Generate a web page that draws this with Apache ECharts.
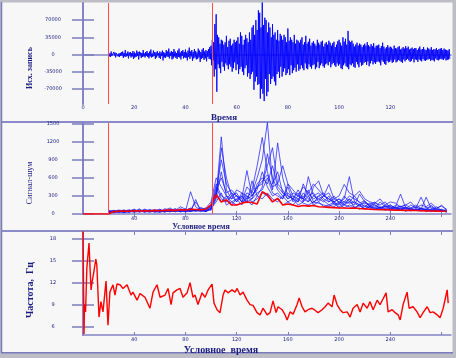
<!DOCTYPE html>
<html><head><meta charset="utf-8">
<script src="https://cdn.jsdelivr.net/npm/echarts@6/dist/echarts.min.js"></script>
<style>html,body{margin:0;padding:0;background:#bdbdc5;}#c{width:456px;height:358px;}</style>
</head><body><div id="c"></div><script>
// ---- Top panel: source record (seismogram), in thousands, sampled every 0.25 time units from t=10
const seisStart = 10, seisStep = 0.25, seisUnit = 1000;
const seisK = [
 3,-4,2,-5,6,-3,1,-4,5,-2,4,-6,3,-1,7,-4,2,-5,3,-3,
 5,-2,6,-7,3,-4,9,-5,2,-3,6,-8,4,-2,5,-6,3,-4,7,-9,
 4,-6,2,-5,8,-3,5,-10,6,-2,4,-7,3,-5,9,-4,2,-6,5,-3,
 7,-5,3,-8,6,-4,10,-6,2,-5,8,-3,5,-9,4,-6,7,-2,3,-7,
 6,-9,4,-3,8,-12,5,-6,3,-7,9,-4,6,-5,12,-8,4,-3,7,-10,
 5,-8,11,-4,6,-7,3,-9,8,-5,12,-6,4,-10,7,-3,9,-8,5,-6,
 10,-7,4,-12,8,-5,14,-9,6,-4,9,-13,5,-8,11,-6,7,-10,4,-9,
 12,-6,8,-15,5,-9,10,-7,13,-11,6,-8,9,-14,7,-5,11,-9,15,-10,
 18,-22,30,-12,25,-45,62,-30,82,-76,40,-20,35,-28,22,-38,30,-15,28,-25,
 20,-33,25,-18,38,-22,15,-30,28,-20,32,-25,18,-35,22,-28,30,-16,25,-32,
 28,-20,35,-40,22,-30,45,-25,38,-35,20,-42,30,-28,40,-22,33,-45,25,-38,
 45,-50,30,-40,55,-35,60,-72,40,-55,70,-45,50,-62,90,-60,85,-90,55,-70,
 115,-80,60,-95,75,-50,70,-85,45,-76,65,-40,55,-60,35,-50,62,-45,40,-55,
 45,-63,30,-40,50,-35,28,-48,42,-25,38,-45,30,-35,40,-28,35,-42,25,-38,
 53,-30,28,-42,35,-22,30,-38,25,-32,40,-27,22,-35,30,-20,28,-33,24,-30,
 30,-22,35,-28,20,-32,25,-18,38,-28,22,-30,26,-20,32,-25,18,-29,24,-22,
 27,-20,22,-30,18,-26,30,-15,24,-28,20,-22,26,-18,28,-24,16,-27,22,-20,
 25,-18,20,-22,28,-15,24,-26,18,-20,23,-17,26,-22,15,-25,20,-18,27,-23,
 30,-20,24,-28,18,-30,35,-22,26,-18,32,-24,20,-26,48,-30,28,-20,25,-22,
 28,-18,22,-25,16,-27,20,-15,24,-20,18,-26,22,-16,20,-23,15,-21,19,-17,
 22,-15,18,-21,25,-14,19,-24,16,-18,21,-13,17,-20,23,-16,14,-19,18,-15,
 18,-14,20,-16,13,-22,17,-12,24,-15,16,-19,12,-21,15,-13,19,-16,14,-15,
 16,-12,14,-17,11,-15,18,-10,13,-16,12,-14,15,-11,17,-13,10,-15,12,-17,
 15,-10,12,-14,17,-11,13,-9,16,-12,10,-15,12,-13,14,-9,11,-16,13,-10,
 13,-11,9,-15,12,-10,16,-12,10,-14,11,-9,15,-12,10,-13,9,-11,14,-10,
 12,-9,10,-13,15,-11,9,-12,11,-14,10,-8,13,-11,9,-12,11,-10,12,-9,
 13,-10,9,-11,12,-8,10,-12,9,-11,8,-10,11,-9
];
const topMarks = [10, 50.5];

// ---- Middle panel: signal-to-noise traces, sampled every 4 units from t=20
const snrStart = 20, snrStep = 4;
const snrA = [30,50,25,60,40,35,70,45,30,55, 80,40,60,35,90,50,45,70,60,40,
 80,300,1280,400,250,300,200,450,350,600, 900,1520,500,700,350,250,300,200,350,250,
 180,300,220,150,200,120,180,250,100,150, 90,130,80,110,70,120,60,100,50,80, 60,90,40,70,50,60,30];
const snrB = [50,20,40,70,30,60,40,80,55,30, 45,65,100,50,70,40,370,120,60,90,
 60,250,1100,600,300,200,350,250,400,800, 1270,700,400,1180,600,300,250,350,200,620,
 300,250,200,300,150,200,250,620,200,150, 200,120,150,100,130,80,120,330,100,90, 120,80,280,90,60,80,50];
const snrC = [20,40,60,30,50,80,35,55,40,70, 30,90,45,60,120,80,55,200,70,40,
 100,400,600,350,400,300,250,720,300,450, 500,800,1100,500,800,500,400,300,450,350,
 500,400,300,490,250,300,490,350,300,380, 250,200,180,250,150,200,180,120,150,200, 100,150,120,180,100,130,80];
const snrD = [40,60,30,50,70,45,60,30,75,50, 65,40,55,80,45,65,90,60,110,70,
 150,500,300,250,350,200,300,200,250,350, 400,600,350,300,250,500,300,250,300,200,
 450,550,300,250,200,150,300,200,150,330, 200,150,100,200,120,150,100,120,80,150, 100,280,100,120,80,150,60];
const snrE = [25,35,45,20,55,30,40,60,35,45, 55,30,70,40,60,35,50,240,45,60,
 100,200,350,150,200,150,180,220,150,300, 250,350,250,200,300,200,150,250,180,150,
 200,180,150,120,180,100,150,120,100,150, 80,120,90,100,60,90,70,80,50,70, 60,50,70,40,60,50,40];
const snrF = [60,30,50,40,25,65,50,35,60,40, 30,50,35,60,40,75,45,55,40,80,
 120,350,200,300,150,250,150,300,200,250, 350,300,200,250,150,200,250,150,200,300,
 150,200,120,150,120,180,100,150,120,80, 130,100,70,110,90,60,100,70,120,50, 90,60,80,60,50,70,30];
const snrG = [35,55,40,25,45,70,30,50,65,40, 50,35,80,55,40,60,70,45,90,50,
 80,450,250,200,300,350,200,250,300,400, 700,450,300,350,250,450,200,300,250,350,
 250,300,350,200,250,200,150,250,180,120, 150,100,120,90,150,80,110,70,90,60, 80,70,60,150,50,40,60];
const snrH = [45,25,55,35,60,40,85,30,50,70, 40,60,50,90,35,55,100,50,65,45,
 90,280,700,300,200,250,300,180,550,300, 450,1000,600,400,300,350,250,200,500,300,
 350,200,300,250,200,250,200,180,200,150, 180,150,200,120,100,150,90,130,80,100, 70,100,60,80,90,50,70];
const snrI = [30,45,65,50,35,55,40,70,45,60, 35,50,60,40,75,45,60,55,80,100,
 200,600,450,300,250,400,350,300,250,500, 600,500,800,450,350,300,250,400,250,200,
 300,350,250,200,300,180,200,300,250,200, 120,180,150,100,130,120,100,90,110,80, 60,90,70,50,80,60,40];
const snrJ = [55,40,30,60,45,50,65,40,55,35, 70,45,40,65,50,85,40,70,55,60,
 130,350,900,500,350,300,200,350,300,450, 550,650,450,500,400,250,350,300,250,400,
 200,250,300,350,200,250,150,200,300,180, 220,130,180,150,200,100,140,120,150,100, 150,90,100,70,120,60,50];
const snrMean = [0,40,45,50,45,55,50,55,50,60, 55,60,65,60,70,65,80,75,70,80,
 150,320,200,235,150,150,180,200,190,165, 370,320,200,260,150,165,150,125,140,130,
 140,120,115,110,105,100,100,95,100,90, 85,80,75,70,72,68,65,62,60,60, 58,55,52,50,48,45,45];
const midMarks = [20, 101];

// ---- Bottom panel: frequency, Hz  [time, value]
const freq = [[0,19.5],[0.4,12],[0.8,5.0],[1.2,9],[2,8],[3,14],[4.7,17.4],[5.5,14],[6.3,11],[7,12],
 [8.5,13.5],[10,15.2],[10.8,14.4],[12.5,7.3],[14,9.4],[15.6,8],[18,12.2],[19.5,6.2],[21,10.7],[23.4,11.7],
 [25,10.3],[26.5,11.8],[28.9,11.7],[31.3,11.2],[34.4,11.7],[37.5,10.3],[39,10.7],[42.2,9.6],[44.5,10.5],[48.4,10],
 [52.3,8.5],[54.7,10.7],[57.8,11.7],[60.2,10],[64.1,10.3],[66.4,11.2],[68.8,9],[70.3,10.6],[73.4,11],[75.8,11.2],
 [78.1,10],[81.3,10.6],[83.6,12],[85.9,10],[87.5,10.3],[89.8,9],[93,10.6],[95.3,10],[97.7,11],[100.8,11.8],
 [102.3,9.2],[104.7,8.3],[107,7.9],[109.4,10.3],[110.9,11],[113.3,10.6],[116.4,11],[118.8,10.7],[120.3,11.2],[122.7,10.3],
 [125,10.7],[128.1,9.6],[130.5,9],[132.8,8.9],[135.9,7.9],[138.3,7.6],[140.6,8.5],[143.8,7.6],[146.1,7.9],[148.4,9.5],
 [150.8,7.9],[152.3,8.7],[155.5,8.3],[157.8,7.6],[159.4,6.9],[161.7,8],[164.1,7.7],[167.2,9],[168.8,9.9],[171.1,8.7],
 [173.4,8],[175.8,8.3],[178.9,8.5],[181.3,8.2],[183.6,7.9],[186.7,8.3],[189.1,8.7],[191.4,9.2],[194.5,8.7],[196.1,10.3],
 [198.4,9],[200.8,8.3],[203.1,7.9],[206.3,8],[208.6,7.3],[210.9,8.5],[214.1,9],[216.4,8],[218.8,9.2],[221.9,8.5],
 [224.2,9.4],[226.6,8.3],[229.7,9.6],[232,9],[234.4,9.8],[236.7,10.6],[238.3,8],[241.4,8.3],[243.8,7.9],[246.1,7.6],
 [247.7,6.9],[250,9],[253.1,10.7],[254.7,8.5],[257.8,8.7],[260.9,8],[263.3,7.2],[265.6,7.9],[268.8,8.7],[271.1,7.9],
 [273.4,8],[276.6,7.6],[278.9,7.2],[281.3,8.5],[282.8,8.7],[284.4,11],[285.2,9.2]];

// ---- Ticks and labels
const topXTicks = [0,20,40,60,80,100,120,140];
const topXLabels = [0,20,40,60,80,100,120];
const topYTicks = [-70000,-35000,0,35000,70000];
const midXTicks = [40,80,120,160,200,240,280];
const midXLabels = [40,80,120,160,200,240];
const midYTicks = [0,300,600,900,1200,1500];
const botYTicks = [6,9,12,15,18];

const axisCol = '#8484c6', tickCol = '#7c7cc0', labCol = '#1c1c80';
const labFont = 'DejaVu Sans';
const plain = v => String(v);

function xAxes(gi, min, max, ticks, labels, margin) {
  return [
    {type:'value', gridIndex:gi, min:min, max:max, position:'bottom',
     axisLine:{show:true, lineStyle:{color:axisCol, width:1.5}},
     axisTick:{show:true, inside:true, length:3, customValues:ticks, lineStyle:{color:tickCol, width:1}},
     axisLabel:{show:true, customValues:labels, formatter:plain, fontSize:5, color:labCol, margin:margin, fontFamily:labFont},
     splitLine:{show:false}},
    {type:'value', gridIndex:gi, min:min, max:max, position:'top',
     axisLine:{show:false},
     axisTick:{show:true, inside:true, length:3, customValues:ticks, lineStyle:{color:tickCol, width:1}},
     axisLabel:{show:false}, splitLine:{show:false}}
  ];
}
function yAxes(gi, min, max, ticks) {
  return [
    {type:'value', gridIndex:gi, min:min, max:max, position:'left',
     axisLine:{show:true, lineStyle:{color:axisCol, width:2}},
     axisTick:{show:true, inside:true, length:11, customValues:ticks, lineStyle:{color:tickCol, width:1.5}},
     axisLabel:{show:true, customValues:ticks, formatter:plain, align:'center', margin:30, fontSize:5, color:labCol, fontFamily:labFont},
     splitLine:{show:false}},
    {type:'value', gridIndex:gi, min:min, max:max, position:'right',
     axisLine:{show:true, lineStyle:{color:axisCol, width:1}},
     axisTick:{show:true, inside:true, length:11, customValues:ticks, lineStyle:{color:tickCol, width:1.5}},
     axisLabel:{show:false}, splitLine:{show:false}}
  ];
}
const toPairs = (start, step, vals, unit) => vals.map((v, i) => [start + i * step, v * (unit || 1)]);
const markLine = (xs) => ({silent:true, symbol:'none', label:{show:false},
  lineStyle:{color:'#ff4a4a', type:'solid', width:1}, data: xs.map(x => ({xAxis:x}))});

const blueTraces = [snrA, snrB, snrC, snrD, snrE, snrF, snrG, snrH, snrI, snrJ];
const series = [];
series.push({type:'line', xAxisIndex:0, yAxisIndex:0, data:toPairs(seisStart, seisStep, seisK, seisUnit),
  showSymbol:false, lineStyle:{color:'#0000ff', width:0.9}, markLine:markLine(topMarks)});
blueTraces.forEach(tr => series.push({type:'line', xAxisIndex:2, yAxisIndex:2,
  data:toPairs(snrStart, snrStep, tr), showSymbol:false, lineStyle:{color:'#1414ff', width:1, opacity:0.7}}));
series.push({type:'line', xAxisIndex:2, yAxisIndex:2, data:[[0,0]].concat(toPairs(snrStart, snrStep, snrMean)),
  showSymbol:false, lineStyle:{color:'#ff0000', width:1.6}, markLine:markLine(midMarks)});
series.push({type:'line', xAxisIndex:4, yAxisIndex:4, data:freq, showSymbol:false,
  lineStyle:{color:'#ff0000', width:1.4}});

const titleCol = '#1c1c80';
const titles = [
  {t:'Исх. запись', x:30, y:68, r:true, f:'bold 8px "Liberation Serif"'},
  {t:'Сигнал-шум', x:30, y:183, r:true, f:'8px "Liberation Serif"'},
  {t:'Частота,  Гц', x:30, y:290, r:true, f:'bold 10px "Liberation Serif"'},
  {t:'Время', x:224, y:118, r:false, f:'bold 9px "Liberation Serif"'},
  {t:'Условное время', x:201, y:227, r:false, f:'bold 8px "Liberation Serif"'},
  {t:'Условное  время', x:221, y:350, r:false, f:'bold 10px "Liberation Serif"'}
];
const graphic = [
  {type:'rect', z:-10, shape:{x:2, y:2.5, width:450.5, height:350}, style:{fill:'#f6f7f6', stroke:null}},
  {type:'line', z:-5, shape:{x1:1.5, y1:2, x2:1.5, y2:353}, style:{stroke:'#7a7abe', lineWidth:1.5}},
  {type:'line', z:-5, shape:{x1:1, y1:352.7, x2:453, y2:352.7}, style:{stroke:'#7a7abe', lineWidth:1.5}},
  {type:'line', z:-5, shape:{x1:2, y1:122, x2:453, y2:122}, style:{stroke:'#8a8ac8', lineWidth:2}},
  {type:'line', z:-5, shape:{x1:2, y1:231, x2:453, y2:231}, style:{stroke:'#8a8ac8', lineWidth:2}}
].concat(titles.map(o => ({type:'text', x:o.x, y:o.y, rotation:o.r ? Math.PI/2 : 0,
  style:{text:o.t, x:0, y:0, fill:titleCol, font:o.f, align:'center', verticalAlign:'middle'}})));

const chart = echarts.init(document.getElementById('c'), null, {renderer:'canvas'});
chart.setOption({
  animation:false,
  backgroundColor:'transparent',
  grid:[
    {left:83, top:3, width:368, height:101},
    {left:83, top:123, width:368, height:91},
    {left:83, top:232, width:368, height:103}
  ],
  xAxis: [].concat(xAxes(0, 0, 143.7, topXTicks, topXLabels, 1.5),
                   xAxes(1, 0, 287.4, midXTicks, midXLabels, 2),
                   xAxes(2, 0, 287.4, midXTicks, midXLabels, 2)),
  yAxis: [].concat(yAxes(0, -101000, 105000, topYTicks),
                   yAxes(1, 0, 1510, midYTicks),
                   yAxes(2, 4.85, 18.9, botYTicks)),
  graphic: graphic,
  series: series
});
</script></body></html>
